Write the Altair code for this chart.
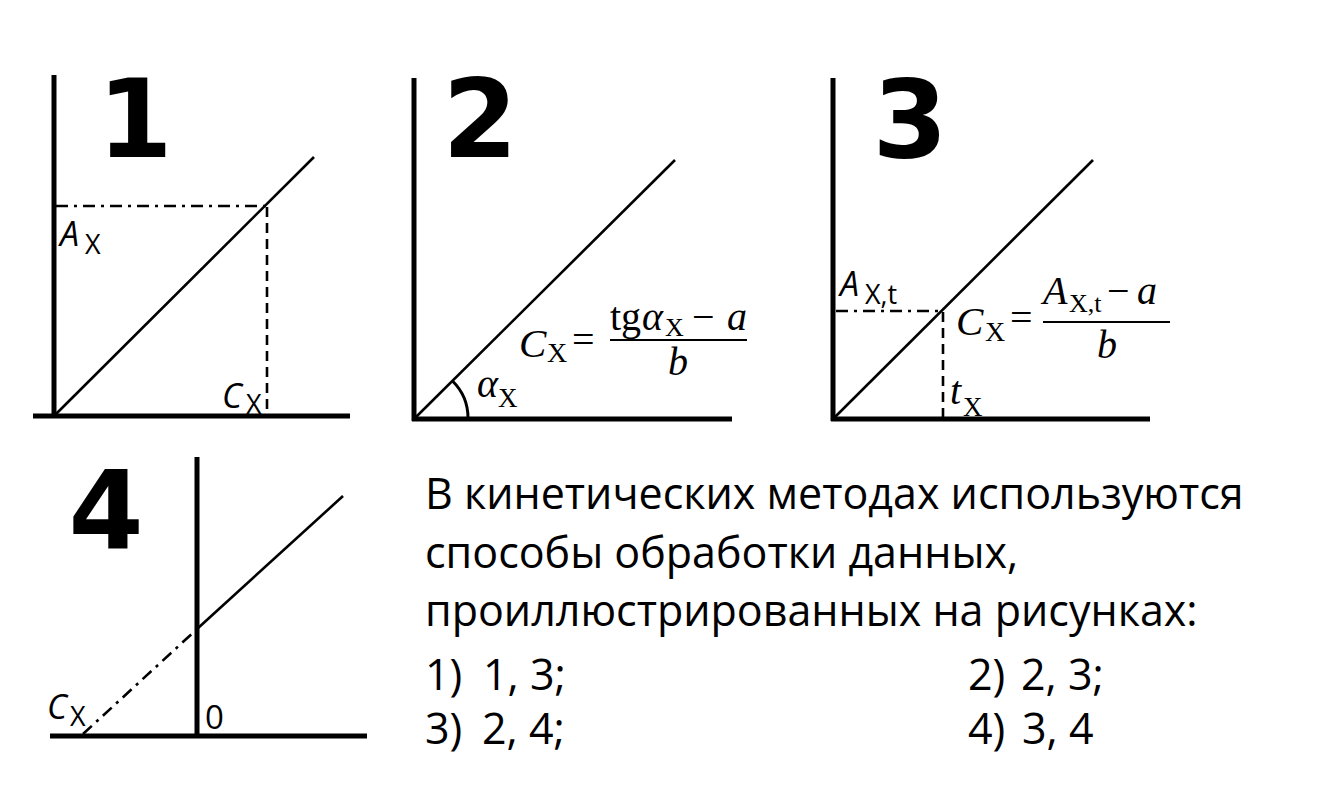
import altair as alt
import pandas as pd

# ---------------- geometry of the four diagrams (page pixel coordinates) -------------
# thick axes
axis_x1 = [54, 33, 414, 412, 833, 831, 197, 50]
axis_y1 = [75, 416, 78, 419, 78, 419, 457, 736]
axis_x2 = [54, 350, 414, 732, 833, 1150, 197, 367]
axis_y2 = [418, 416, 421, 419, 421, 419, 738, 736]

# calibration lines (solid) + fraction bars
line_x1 = [56, 416, 835, 197, 610, 1043]
line_y1 = [414, 417, 417, 629, 340, 322]
line_x2 = [314, 675, 1093, 343, 747, 1170]
line_y2 = [157, 160, 160, 496, 340, 322]
line_w = [2.6, 2.6, 2.6, 2.6, 2.2, 2.2]

# dashed drop lines
dash_x1 = [267, 943]
dash_y1 = [207, 312]
dash_x2 = [267, 943]
dash_y2 = [414, 417]

# dash-dot lines
dd_x1 = [56, 836, 83]
dd_y1 = [206, 311, 734]
dd_x2 = [267, 943, 196]
dd_y2 = [206, 311, 630]

# angle arc in diagram 2
arc_cx = [416]
arc_cy = [418]
arc_r_in = [50.5]
arc_r_out = [53.5]
arc_t0 = [0.785]
arc_t1 = [1.571]

# ---------------- texts ----------------
digit_text = ["1", "2", "3", "4"]
digit_x = [135, 480, 910, 106]
digit_y = [157, 157, 157, 548]

body_text = ["В кинетических методах используются",
             "способы обработки данных,",
             "проиллюстрированных на рисунках:",
             "1)", "1, 3;", "2)", "2, 3;",
             "3)", "2, 4;", "4)", "3, 4"]
body_x = [425, 425, 425, 425, 483, 968, 1021, 425, 482, 968, 1022]
body_y = [509, 568, 626, 690, 690, 690, 690, 744, 744, 744, 744]

# sans labels on diagrams
sans_it_text = ["A", "C", "C", "A"]
sans_it_x = [60, 222, 47, 840]
sans_it_y = [246, 408, 719, 296]
sans_reg_text = ["X", "X", "X", "X,t", "0"]
sans_reg_x = [85, 246, 70, 865, 205]
sans_reg_y = [254, 414, 726, 304, 729]
sans_reg_s = [27, 27, 27, 27, 33]

# serif (math) labels
serif_it_text = ["α", "t", "C", "α", "a", "b", "C", "A", "a", "b"]
serif_it_x = [477, 950, 519, 642, 727, 668, 956, 1043, 1137, 1097]
serif_it_y = [397, 404, 357, 330, 330, 375, 335, 304, 304, 358]
serif_it_s = [40, 40, 41, 40, 40, 40, 41, 40, 40, 40]

serif_reg_text = ["X", "X", "X", "=", "tg", "X", "−", "X", "=", "X,t", "−"]
serif_reg_x = [498, 963, 547, 572, 610, 665, 692, 985, 1010, 1069, 1107]
serif_reg_y = [407, 416, 362, 353, 330, 336, 330, 341, 331, 312, 304]
serif_reg_s = [27, 27, 28, 40, 40, 26, 40, 28, 40, 26, 40]

X = alt.Scale(domain=[8, 1310], nice=False, zero=False)
Y = alt.Scale(domain=[783, 8], nice=False, zero=False)


def seg_layer(x1, y1, x2, y2, w, dash=None):
    df = pd.DataFrame({"x": x1, "y": y1, "x2": x2, "y2": y2,
                       "w": w if isinstance(w, list) else [w] * len(x1)})
    kw = {"color": "black", "strokeCap": "butt"}
    if dash:
        kw["strokeDash"] = dash
    return alt.Chart(df).mark_rule(**kw).encode(
        x=alt.X("x:Q", scale=X, axis=None),
        y=alt.Y("y:Q", scale=Y, axis=None),
        x2="x2:Q", y2="y2:Q",
        strokeWidth=alt.StrokeWidth("w:Q", scale=None, legend=None),
    )


def text_layer(txt, xs, ys, sizes, font, style="normal", weight="normal", align="left"):
    df = pd.DataFrame({"t": txt, "x": xs, "y": ys,
                       "s": sizes if isinstance(sizes, list) else [sizes] * len(txt)})
    return alt.Chart(df).mark_text(align=align, baseline="alphabetic", font=font,
                                   fontStyle=style, fontWeight=weight,
                                   color="black").encode(
        x=alt.X("x:Q", scale=X, axis=None),
        y=alt.Y("y:Q", scale=Y, axis=None),
        text="t:N",
        size=alt.Size("s:Q", scale=None, legend=None),
    )


axes = seg_layer(axis_x1, axis_y1, axis_x2, axis_y2, 5)
lines = seg_layer(line_x1, line_y1, line_x2, line_y2, line_w)
dashed = seg_layer(dash_x1, dash_y1, dash_x2, dash_y2, 2.6, [10, 6])
dashdot = seg_layer(dd_x1, dd_y1, dd_x2, dd_y2, 2.6, [12, 6, 3, 6])

arc_df = pd.DataFrame({"x": arc_cx, "y": arc_cy, "r": arc_r_in, "r2": arc_r_out,
                       "t0": arc_t0, "t1": arc_t1})
arc = alt.Chart(arc_df).mark_arc(color="black").encode(
    x=alt.X("x:Q", scale=X, axis=None),
    y=alt.Y("y:Q", scale=Y, axis=None),
    theta=alt.Theta("t0:Q", scale=None),
    theta2="t1:Q",
    radius=alt.Radius("r:Q", scale=None),
    radius2="r2:Q",
)

digits = text_layer(digit_text, digit_x, digit_y, 108, "DejaVu Sans", weight="bold", align="center")
body = text_layer(body_text, body_x, body_y, 43, "Open Sans")
sans_it = text_layer(sans_it_text, sans_it_x, sans_it_y, 34, "Open Sans", style="italic")
sans_reg = text_layer(sans_reg_text, sans_reg_x, sans_reg_y, sans_reg_s, "Open Sans")
serif_it = text_layer(serif_it_text, serif_it_x, serif_it_y, serif_it_s, "Liberation Serif", style="italic")
serif_reg = text_layer(serif_reg_text, serif_reg_x, serif_reg_y, serif_reg_s, "Liberation Serif")

chart = alt.layer(
    axes, lines, dashed, dashdot, arc, digits, body, sans_it, sans_reg, serif_it, serif_reg
).properties(width=1302, height=775, padding=0, background="white").configure_view(stroke=None)

chart.save("out.html", embed_options={"renderer": "svg", "actions": False})
